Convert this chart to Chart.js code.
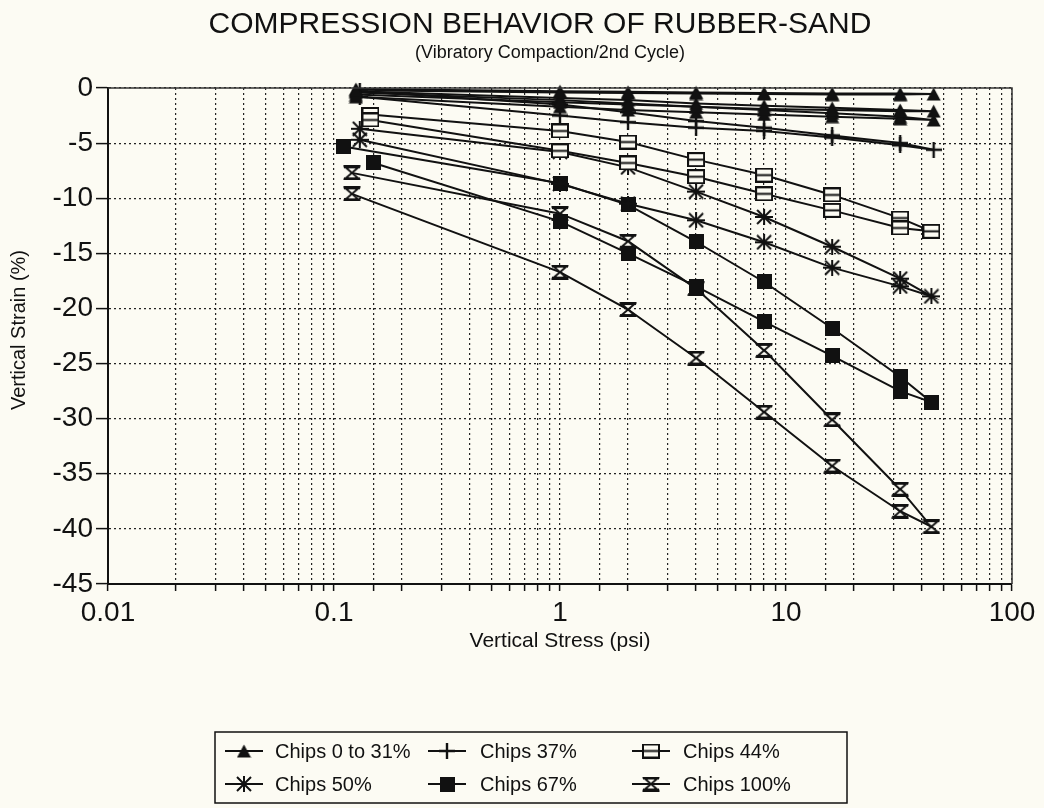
<!DOCTYPE html>
<html>
<head>
<meta charset="utf-8">
<script src="https://cdn.jsdelivr.net/npm/chart.js@4.4.1/dist/chart.umd.min.js"></script>
<style>
  html, body { margin: 0; padding: 0; background: #fcfbf3; }
  #wrap { width: 1044px; height: 808px; }
</style>
</head>
<body>
<div id="wrap"><canvas id="chart" width="1044" height="808"></canvas></div>
<script>
// Vertical stress (psi) and vertical strain (%) for each mixture,
// loading up to the peak stress and unloading back down.
const chips0to31aStress = [0.125, 1, 2, 4, 8, 16, 32, 45, 32, 16, 8, 4, 2, 1, 0.125];
const chips0to31aStrain = [-0.1, -0.3, -0.35, -0.4, -0.45, -0.5, -0.5, -0.55, -0.6, -0.6, -0.55, -0.5, -0.45, -0.4, -0.2];
const chips0to31bStress = [0.125, 1, 2, 4, 8, 16, 32, 45, 32, 16, 8, 4, 2, 1, 0.125];
const chips0to31bStrain = [-0.3, -0.9, -1.1, -1.4, -1.6, -1.8, -2.0, -2.1, -2.1, -2.0, -1.9, -1.7, -1.5, -1.3, -0.6];
const chips0to31cStress = [0.125, 1, 2, 4, 8, 16, 32, 45, 32, 16, 8, 4, 2, 1, 0.125];
const chips0to31cStrain = [-0.4, -1.1, -1.4, -1.7, -2.0, -2.3, -2.6, -2.9, -2.8, -2.6, -2.4, -2.2, -2.0, -1.7, -0.8];

const chips37Stress = [0.13, 1, 2, 4, 8, 16, 32, 45, 32, 16, 8, 4, 2, 1, 0.13];
const chips37Strain = [-0.3, -1.5, -2.2, -3.0, -3.6, -4.3, -5.0, -5.6, -5.2, -4.5, -3.9, -3.6, -3.1, -2.5, -0.8];

const chips44Stress = [0.145, 1, 2, 4, 8, 16, 32, 44, 32, 16, 8, 4, 2, 1, 0.145];
const chips44Strain = [-2.4, -3.9, -4.9, -6.5, -7.9, -9.7, -11.8, -13.0, -12.7, -11.1, -9.6, -8.05, -6.8, -5.7, -2.9];

const chips50Stress = [0.13, 1, 2, 4, 8, 16, 32, 44, 32, 16, 8, 4, 2, 1, 0.13];
const chips50Strain = [-3.7, -5.8, -7.2, -9.4, -11.7, -14.4, -17.3, -18.9, -18.0, -16.3, -14.0, -12.0, -10.5, -8.7, -4.7];

const chips67Stress = [0.11, 1, 2, 4, 8, 16, 32, 44, 32, 16, 8, 4, 2, 1, 0.15];
const chips67Strain = [-5.3, -8.65, -10.6, -13.95, -17.6, -21.8, -26.2, -28.5, -27.5, -24.3, -21.2, -18.0, -15.0, -12.1, -6.8];

const chips100Stress = [0.12, 1, 2, 4, 8, 16, 32, 44, 32, 16, 8, 4, 2, 1, 0.12];
const chips100Strain = [-7.7, -11.4, -13.9, -18.2, -23.8, -30.1, -36.4, -39.8, -38.4, -34.3, -29.4, -24.5, -20.1, -16.7, -9.6];

const xTickLabels = [0.01, 0.1, 1, 10, 100];
const yTickValues = [0, -5, -10, -15, -20, -25, -30, -35, -40, -45];

const legendLabels = ['Chips 0 to 31%', 'Chips 37%', 'Chips 44%', 'Chips 50%', 'Chips 67%', 'Chips 100%'];

const titleText = 'COMPRESSION BEHAVIOR OF RUBBER-SAND';
const subtitleText = '(Vibratory Compaction/2nd Cycle)';
const xTitleText = 'Vertical Stress (psi)';
const yTitleText = 'Vertical Strain (%)';

const INK = '#111111';
const PAPER = '#fcfbf3';
const FONT = '"Liberation Sans", Arial, Helvetica, sans-serif';

// ---- marker glyphs drawn on small canvases ----
function glyph(w, h, paint) {
  const c = document.createElement('canvas');
  c.width = w; c.height = h;
  const g = c.getContext('2d');
  g.strokeStyle = INK; g.fillStyle = INK; g.lineJoin = 'miter';
  paint(g, w, h);
  return c;
}
const markTriangle = glyph(15, 14, (g, w, h) => {
  g.beginPath(); g.moveTo(w / 2, 0.5); g.lineTo(w - 0.5, h - 0.5); g.lineTo(0.5, h - 0.5); g.closePath(); g.fill();
});
const markPlus = glyph(16, 16, (g, w, h) => {
  g.lineWidth = 2.4;
  g.beginPath(); g.moveTo(0, h / 2); g.lineTo(w, h / 2); g.moveTo(w / 2, 0); g.lineTo(w / 2, h); g.stroke();
});
const markBoxBar = glyph(18, 15, (g, w, h) => {
  g.fillStyle = PAPER; g.fillRect(1, 1, w - 2, h - 2);
  g.lineWidth = 2; g.strokeRect(1, 1, w - 2, h - 2);
  g.beginPath(); g.moveTo(0, h / 2); g.lineTo(w, h / 2); g.stroke();
});
const markStar = glyph(18, 16, (g, w, h) => {
  g.lineWidth = 2;
  g.beginPath();
  g.moveTo(0, h / 2); g.lineTo(w, h / 2);
  g.moveTo(2, 1); g.lineTo(w - 2, h - 1);
  g.moveTo(w - 2, 1); g.lineTo(2, h - 1);
  g.moveTo(w / 2, 0); g.lineTo(w / 2, h);
  g.stroke();
});
const markSquare = glyph(15, 15, (g, w, h) => { g.fillRect(0, 0, w, h); });
const markHourglass = glyph(18, 15, (g, w, h) => {
  g.beginPath();
  g.moveTo(2, 1.5); g.lineTo(w - 2, 1.5); g.lineTo(2, h - 1.5); g.lineTo(w - 2, h - 1.5); g.closePath();
  g.fillStyle = PAPER; g.fill();
  g.lineWidth = 2; g.stroke();
  g.lineWidth = 3;
  g.beginPath(); g.moveTo(1, 1.5); g.lineTo(w - 1, 1.5); g.moveTo(1, h - 1.5); g.lineTo(w - 1, h - 1.5); g.stroke();
});

const legendMarks = [markTriangle, markPlus, markBoxBar, markStar, markSquare, markHourglass];

function series(stress, strain, mark, legendIndex) {
  return {
    label: legendLabels[legendIndex],
    data: stress.map((s, i) => ({ x: s, y: strain[i] })),
    borderColor: INK,
    backgroundColor: INK,
    borderWidth: 2,
    tension: 0,
    pointStyle: mark,
    pointRadius: 6,
    pointHoverRadius: 6,
    clip: false
  };
}

const datasets = [
  series(chips0to31aStress, chips0to31aStrain, markTriangle, 0),
  series(chips0to31bStress, chips0to31bStrain, markTriangle, 0),
  series(chips0to31cStress, chips0to31cStrain, markTriangle, 0),
  series(chips37Stress, chips37Strain, markPlus, 1),
  series(chips44Stress, chips44Strain, markBoxBar, 2),
  series(chips50Stress, chips50Strain, markStar, 3),
  series(chips67Stress, chips67Strain, markSquare, 4),
  series(chips100Stress, chips100Strain, markHourglass, 5)
];

// ---- titles, frame and legend drawn around the plot ----
const decorations = {
  id: 'decorations',
  beforeDraw(chart) {
    const { ctx, width, height } = chart;
    ctx.save();
    ctx.fillStyle = PAPER;
    ctx.fillRect(0, 0, width, height);
    ctx.restore();
  },
  afterDraw(chart) {
    const { ctx, chartArea: a } = chart;
    ctx.save();
    // frame on the top and right
    ctx.strokeStyle = '#333';
    ctx.lineWidth = 1.5;
    ctx.beginPath();
    ctx.moveTo(a.left, a.top); ctx.lineTo(a.right, a.top); ctx.lineTo(a.right, a.bottom);
    ctx.stroke();

    ctx.fillStyle = INK;
    ctx.textAlign = 'center';
    ctx.textBaseline = 'middle';
    ctx.font = '30px ' + FONT;
    ctx.fillText(titleText, 540, 25);
    ctx.font = '18px ' + FONT;
    ctx.fillText(subtitleText, 550, 53);

    ctx.font = '21px ' + FONT;
    ctx.fillText(xTitleText, 560, 641);
    ctx.save();
    ctx.translate(19, 330);
    ctx.rotate(-Math.PI / 2);
    ctx.font = '20px ' + FONT;
    ctx.fillText(yTitleText, 0, 0);
    ctx.restore();

    // legend box
    const box = { left: 215, top: 732, right: 847, bottom: 803 };
    ctx.strokeStyle = INK;
    ctx.lineWidth = 1.5;
    ctx.strokeRect(box.left, box.top, box.right - box.left, box.bottom - box.top);
    const markX = [244, 447, 651];
    const textX = [275, 480, 683];
    const rowY = [751, 784];
    ctx.font = '20px ' + FONT;
    ctx.textAlign = 'left';
    legendLabels.forEach((label, i) => {
      const x = markX[i % 3];
      const y = rowY[Math.floor(i / 3)];
      ctx.lineWidth = 2;
      ctx.beginPath(); ctx.moveTo(x - 19, y); ctx.lineTo(x + 19, y); ctx.stroke();
      const m = legendMarks[i];
      ctx.drawImage(m, x - m.width / 2, y - m.height / 2);
      ctx.fillText(label, textX[i % 3], y + 1);
    });
    ctx.restore();
  }
};

new Chart(document.getElementById('chart'), {
  type: 'line',
  data: { datasets },
  options: {
    responsive: false,
    animation: false,
    devicePixelRatio: 1,
    layout: { padding: { top: 88, right: 32, bottom: 0, left: 0 } },
    plugins: { legend: { display: false }, tooltip: { enabled: false }, title: { display: false } },
    scales: {
      x: {
        type: 'logarithmic',
        min: 0.01,
        max: 100,
        afterFit(scale) { scale.height = 224; },
        border: { display: true, color: INK, width: 2, dash: [2, 3] },
        grid: { color: '#222', lineWidth: 1.2, tickLength: 7, tickColor: INK, tickWidth: 1.5 },
        ticks: {
          autoSkip: false,
          maxRotation: 0,
          padding: 5,
          color: INK,
          font: { family: FONT, size: 28 },
          callback(v) { return xTickLabels.find(t => Math.abs(t - v) < t * 1e-6) !== undefined ? String(v) : ''; }
        }
      },
      y: {
        type: 'linear',
        min: -45,
        max: 0,
        afterFit(scale) { scale.width = 108; },
        afterBuildTicks(scale) { scale.ticks = yTickValues.map(v => ({ value: v })); },
        border: { display: true, color: INK, width: 2, dash: [2, 3] },
        grid: { color: '#222', lineWidth: 1.2, tickLength: 12, tickColor: INK, tickWidth: 1.5 },
        ticks: {
          padding: 3,
          color: INK,
          font: { family: FONT, size: 28 },
          callback(v) { return String(v); }
        }
      }
    }
  },
  plugins: [decorations]
});
</script>
</body>
</html>
